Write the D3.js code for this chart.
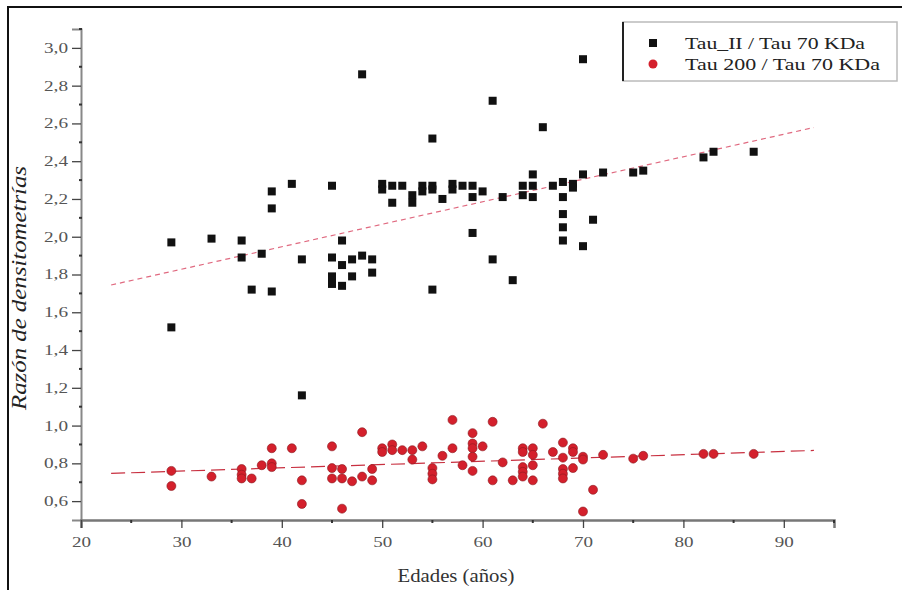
<!DOCTYPE html>
<html>
<head>
<meta charset="utf-8">
<script src="https://cdn.jsdelivr.net/npm/d3@7"></script>
<style>
  body { margin: 0; background: #fff; }
  text { font-family: "Liberation Serif", "DejaVu Serif", serif; }
</style>
</head>
<body>
<script>
// chart size
var width = 902;
var height = 590;

// Tau_II / Tau 70 KDa (black squares)
var tauIIAge = [29, 29, 33, 36, 36, 37, 38, 39, 39, 39, 41, 42, 42, 45, 45, 45, 45, 46, 46, 46,
  47, 47, 48, 48, 49, 49, 50, 50, 51, 51, 52, 53, 53, 54, 54, 55, 55, 55, 55, 56,
  57, 57, 58, 59, 59, 59, 60, 61, 61, 62, 63, 64, 64, 65, 65, 65, 66, 67, 68, 68,
  68, 68, 68, 69, 69, 70, 70, 70, 71, 72, 75, 76, 82, 83, 87];
var tauIIRatio = [1.97, 1.52, 1.99, 1.98, 1.89, 1.72, 1.91, 1.71, 2.24, 2.15, 2.28, 1.88, 1.16, 2.27, 1.89, 1.79, 1.75, 1.98, 1.85, 1.74,
  1.88, 1.79, 1.90, 2.86, 1.88, 1.81, 2.28, 2.25, 2.27, 2.18, 2.27, 2.22, 2.18, 2.27, 2.24, 2.27, 2.25, 2.52, 1.72, 2.20,
  2.28, 2.25, 2.27, 2.27, 2.21, 2.02, 2.24, 2.72, 1.88, 2.21, 1.77, 2.27, 2.22, 2.33, 2.27, 2.21, 2.58, 2.27, 2.29, 2.21,
  2.12, 2.05, 1.98, 2.28, 2.26, 2.33, 2.94, 1.95, 2.09, 2.34, 2.34, 2.35, 2.42, 2.45, 2.45];

// Tau 200 / Tau 70 KDa (red circles)
var tau200Age = [29, 29, 33, 36, 36, 36, 37, 38, 39, 39, 39, 41, 42, 42, 45, 45, 45, 46, 46, 46,
  47, 48, 48, 49, 49, 50, 50, 51, 51, 52, 53, 53, 54, 55, 55, 55, 56, 57, 57, 58,
  59, 59, 59, 59, 59, 60, 61, 61, 62, 63, 64, 64, 64, 64, 64, 65, 65, 65, 65, 66,
  67, 68, 68, 68, 68, 68, 69, 69, 69, 70, 70, 70, 71, 72, 75, 76, 82, 83, 87];
var tau200Ratio = [0.76, 0.68, 0.73, 0.77, 0.74, 0.72, 0.72, 0.79, 0.88, 0.80, 0.78, 0.88, 0.71, 0.585, 0.89, 0.775, 0.72, 0.77, 0.72, 0.56,
  0.705, 0.965, 0.73, 0.77, 0.71, 0.88, 0.86, 0.90, 0.87, 0.87, 0.87, 0.82, 0.89, 0.775, 0.745, 0.715, 0.84, 1.03, 0.88, 0.79,
  0.96, 0.905, 0.88, 0.835, 0.76, 0.89, 1.02, 0.71, 0.805, 0.71, 0.88, 0.86, 0.78, 0.755, 0.73, 0.88, 0.845, 0.79, 0.71, 1.01,
  0.86, 0.91, 0.83, 0.77, 0.745, 0.72, 0.88, 0.86, 0.775, 0.835, 0.82, 0.545, 0.66, 0.845, 0.825, 0.84, 0.85, 0.85, 0.85];

// axis ticks
var xTicks = [20, 30, 40, 50, 60, 70, 80, 90];
var yTicks = [0.6, 0.8, 1.0, 1.2, 1.4, 1.6, 1.8, 2.0, 2.2, 2.4, 2.6, 2.8, 3.0];
var fitRange = [23, 93];
var legendLabels = ["Tau_II / Tau 70 KDa", "Tau 200 / Tau 70 KDa"];

var svg = d3.select("body").append("svg")
  .attr("width", width)
  .attr("height", height);

// outer frame (only left and top are visible)
svg.append("path")
  .attr("d", "M8,590 L8,7 L902,7")
  .attr("fill", "none")
  .attr("stroke", "#111")
  .attr("stroke-width", 2);

var x = d3.scaleLinear().domain([20, 95]).range([81, 834]);
var y = d3.scaleLinear().domain([0.5, 3.1]).range([520, 29]);

var comma = function(d) { return d3.format(".1f")(d).replace(".", ","); };

// y axis
var yAxis = svg.append("g")
  .attr("transform", "translate(" + x(20) + ",0)")
  .call(d3.axisLeft(y).tickValues(yTicks).tickFormat(comma).tickSize(9).tickPadding(4));
yAxis.select(".domain").attr("stroke", "#888").attr("stroke-width", 2);
yAxis.selectAll(".tick line").attr("stroke", "#444").attr("stroke-width", 1.3);
// the original glyphs are stretched sideways
yAxis.selectAll(".tick text")
  .attr("font-size", 14)
  .attr("fill", "#555")
  .attr("textLength", 24)
  .attr("lengthAdjust", "spacingAndGlyphs");

// y minor ticks
svg.append("g").selectAll("line")
  .data(d3.range(0.7, 3.1, 0.2))
  .enter().append("line")
  .attr("x1", x(20) - 2).attr("x2", x(20) + 1)
  .attr("y1", function(d) { return y(d); })
  .attr("y2", function(d) { return y(d); })
  .attr("stroke", "#333").attr("stroke-width", 2);

// x axis
var xAxis = svg.append("g")
  .attr("transform", "translate(0," + y(0.5) + ")")
  .call(d3.axisBottom(x).tickValues(xTicks).tickFormat(d3.format("d")).tickSize(8).tickPadding(9));
xAxis.select(".domain").attr("stroke", "#777").attr("stroke-width", 2.5);
xAxis.selectAll(".tick line").attr("stroke", "#444").attr("stroke-width", 1.3);
xAxis.selectAll(".tick text")
  .attr("font-size", 14)
  .attr("fill", "#555")
  .attr("textLength", 19)
  .attr("lengthAdjust", "spacingAndGlyphs");

// x minor ticks
svg.append("g").selectAll("line")
  .data(d3.range(25, 100, 10))
  .enter().append("line")
  .attr("x1", function(d) { return x(d); })
  .attr("x2", function(d) { return x(d); })
  .attr("y1", y(0.5)).attr("y2", y(0.5) + 3)
  .attr("stroke", "#333").attr("stroke-width", 2);

// axis titles
svg.append("text")
  .attr("transform", "translate(26,288) rotate(-90)")
  .attr("text-anchor", "middle")
  .attr("font-size", 21)
  .attr("font-style", "italic")
  .attr("fill", "#222")
  .attr("textLength", 244)
  .attr("lengthAdjust", "spacingAndGlyphs")
  .text("Razón de densitometrías");

svg.append("text")
  .attr("x", 456)
  .attr("y", 582)
  .attr("text-anchor", "middle")
  .attr("font-size", 18)
  .attr("fill", "#333")
  .attr("textLength", 117)
  .attr("lengthAdjust", "spacingAndGlyphs")
  .text("Edades (años)");

// least squares line
function linearFit(ages, vals) {
  var mx = d3.mean(ages), my = d3.mean(vals);
  var sxy = d3.sum(ages, function(a, i) { return (a - mx) * (vals[i] - my); });
  var sxx = d3.sum(ages, function(a) { return (a - mx) * (a - mx); });
  var b = sxy / sxx;
  return function(a) { return my + b * (a - mx); };
}

var fitII = linearFit(tauIIAge, tauIIRatio);
var fit200 = linearFit(tau200Age, tau200Ratio);

var line = d3.line()
  .x(function(d) { return x(d[0]); })
  .y(function(d) { return y(d[1]); });

svg.append("path")
  .attr("d", line(fitRange.map(function(a) { return [a, fitII(a)]; })))
  .attr("fill", "none")
  .attr("stroke", "#e06a80")
  .attr("stroke-width", 1.2)
  .attr("stroke-dasharray", "5,4");

svg.append("path")
  .attr("d", line(fitRange.map(function(a) { return [a, fit200(a)]; })))
  .attr("fill", "none")
  .attr("stroke", "#c83040")
  .attr("stroke-width", 1.2)
  .attr("stroke-dasharray", "14,6");

// black squares
svg.append("g").selectAll("rect")
  .data(tauIIAge)
  .enter().append("rect")
  .attr("x", function(d) { return x(d) - 4; })
  .attr("y", function(d, i) { return y(tauIIRatio[i]) - 4; })
  .attr("width", 8)
  .attr("height", 8)
  .attr("fill", "#111");

// red circles
svg.append("g").selectAll("circle")
  .data(tau200Age)
  .enter().append("circle")
  .attr("cx", function(d) { return x(d); })
  .attr("cy", function(d, i) { return y(tau200Ratio[i]); })
  .attr("r", 4.5)
  .attr("fill", "#d4202c")
  .attr("stroke", "#8a1a20")
  .attr("stroke-width", 0.6);

// legend
var legend = svg.append("g");
legend.append("rect")
  .attr("x", 623).attr("y", 22)
  .attr("width", 274).attr("height", 59)
  .attr("fill", "#fff")
  .attr("stroke", "#bbb")
  .attr("stroke-width", 1.5);
legend.append("line")
  .attr("x1", 623).attr("x2", 623)
  .attr("y1", 22).attr("y2", 81)
  .attr("stroke", "#222").attr("stroke-width", 2);

legend.append("rect")
  .attr("x", 649).attr("y", 39)
  .attr("width", 8).attr("height", 8)
  .attr("fill", "#111");
legend.append("circle")
  .attr("cx", 653).attr("cy", 64)
  .attr("r", 4.5)
  .attr("fill", "#d4202c");

var legendWidths = [180, 195];
legend.selectAll("text.lbl")
  .data(legendLabels)
  .enter().append("text")
  .attr("class", "lbl")
  .attr("x", 685)
  .attr("y", function(d, i) { return 49 + i * 21; })
  .attr("font-size", 17)
  .attr("fill", "#222")
  .attr("textLength", function(d, i) { return legendWidths[i]; })
  .attr("lengthAdjust", "spacingAndGlyphs")
  .text(function(d) { return d; });
</script>
</body>
</html>
